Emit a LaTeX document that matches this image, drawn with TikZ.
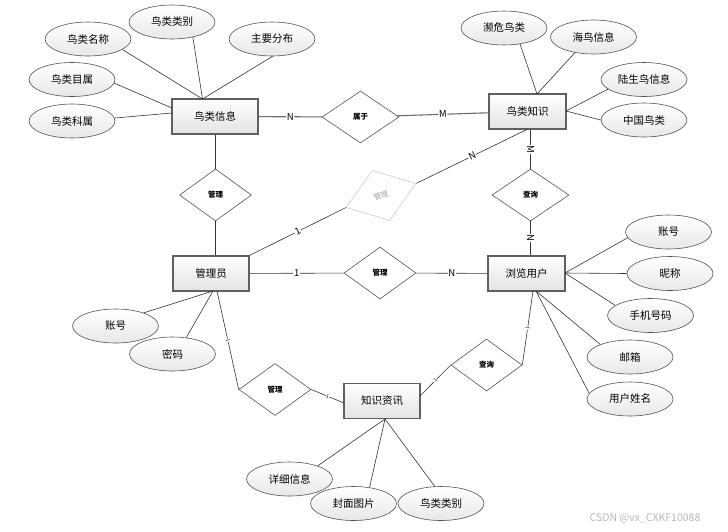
\documentclass[tikz,border=0pt]{standalone}
\usepackage{fontspec}
\setmainfont{Noto Sans CJK SC}
\usetikzlibrary{shapes.geometric}
\begin{document}
\begin{tikzpicture}[x=1pt,y=-1pt,
 entity/.style={draw=gray!75!black, line width=1.1pt, top color=white, bottom color=gray!22, minimum width=77pt, minimum height=35pt, inner sep=0pt, font=\fontsize{10.5}{12}\selectfont},
 attr/.style={ellipse, draw=gray!65!black, line width=0.6pt, top color=white, bottom color=gray!18, minimum width=86pt, minimum height=34pt, inner sep=0pt, font=\fontsize{10.5}{12}\selectfont},
 rel/.style={diamond, draw=gray!65!black, line width=0.6pt, fill=white, minimum width=72pt, minimum height=52pt, inner sep=0pt, font=\fontsize{7.5}{9}\selectfont\bfseries},
 link/.style={draw=black!80, line width=0.6pt},
 card/.style={fill=white, inner sep=0.6pt, font=\fontsize{9.5}{10}\selectfont, sloped},
 tinycard/.style={fill=white, inner sep=0.3pt, font=\fontsize{5}{6}\selectfont, sloped},
]
\useasboundingbox (0,0) rectangle (728,531);
\fill[white] (0,0) rectangle (728,531);

% entities
\node[entity, minimum width=86pt] (bird) at (215,116.5) {鸟类信息};
\node[entity] (know) at (527.5,111.5) {鸟类知识};
\node[entity, minimum width=76pt] (admin) at (211,273.5) {管理员};
\node[entity] (user) at (526.5,273.5) {浏览用户};
\node[entity, minimum width=76pt] (info) at (382,401) {知识资讯};

% relationships
\node[rel, minimum width=77pt] (belong) at (360.5,117) {属于};
\node[rel] (m1) at (215.5,195) {管理};
\node[rel, minimum width=77pt] (q1) at (530.5,195) {查询};
\node[rel] (m2) at (380,273) {管理};
\node[rel] (m3) at (275,389.5) {管理};
\node[rel, minimum width=71pt] (q2) at (486.5,365) {查询};
\node[rel, draw=gray!40, text=gray!75, font=\fontsize{7.5}{9}\selectfont, rotate=19, minimum width=74pt, minimum height=53pt] (m4) at (381,195.5) {管理};

% attributes
\node[attr] (a1) at (88,39) {鸟类名称};
\node[attr] (a2) at (172,22) {鸟类类别};
\node[attr] (a3) at (272,39) {主要分布};
\node[attr] (a4) at (72,79.5) {鸟类目属};
\node[attr] (a5) at (72,121) {鸟类科属};

\node[attr] (b1) at (504,28) {濒危鸟类};
\node[attr] (b2) at (593.5,37) {海鸟信息};
\node[attr] (b3) at (644,79.5) {陆生鸟信息};
\node[attr] (b4) at (644,120) {中国鸟类};

\node[attr] (c1) at (668.5,232) {账号};
\node[attr] (c2) at (670,273.5) {昵称};
\node[attr] (c3) at (650.5,315.5) {手机号码};
\node[attr] (c4) at (630,357) {邮箱};
\node[attr] (c5) at (630,399) {用户姓名};

\node[attr] (d1) at (115.5,326) {账号};
\node[attr] (d2) at (172.5,354) {密码};

\node[attr] (e1) at (289.5,479) {详细信息};
\node[attr] (e2) at (353.5,503.5) {封面图片};
\node[attr] (e3) at (441,503.5) {鸟类类别};

% attachment points
\coordinate (bt) at (202.5,99);
\coordinate (bl1) at (172,108);
\coordinate (bl2) at (172,113);
\coordinate (kt) at (537,94);
\coordinate (kr) at (566,111);
\coordinate (kb) at (528,129);
\coordinate (ur) at (565,273);
\coordinate (ubr) at (536,291);
\coordinate (ub) at (533,291);
\coordinate (ad) at (213,291);
\coordinate (ab) at (217,291);
\coordinate (il) at (344,403);
\coordinate (ir) at (420,396);
\coordinate (ib) at (385,419);

% attribute links
\draw[link] (a1.-17) -- (bt);
\draw[link] (a2.-36) -- (bt);
\draw[link] (a3.-88) -- (bt);
\draw[link] (a4.-5) -- (bl1);
\draw[link] (a5.4) -- (bl2);

\draw[link] (b1.-45) -- (kt);
\draw[link] (b2.-140) -- (kt);
\draw[link] (b3.-165) -- (kr);
\draw[link] (b4.west) -- (kr);

\draw[link] (c1.-172) -- (ur);
\draw[link] (c2.west) -- (ur);
\draw[link] (c3.164) -- (ur);
\draw[link] (c4.157) -- (ubr);
\draw[link] (c5.172) -- (ubr);

\draw[link] (d1.25) -- (ad);
\draw[link] (d2.50) -- (ad);

\draw[link] (e1.25) -- (ib);
\draw[link] (e2.45) -- (ib);
\draw[link] (e3.110) -- (ib);

% relationship links
\draw[link, draw=gray!85!black, line width=1.1pt] (bird) -- node[card]{N} (belong);
\draw[link, draw=gray!85!black, line width=1.1pt] (belong) -- node[card]{M} (know);
\draw[link] (bird.south -| m1) -- (m1.north);
\draw[link] (m1.south) -- (m1.south |- admin.north);
\draw[link] (admin.north east) -- node[card]{1} (m4.west);
\draw[link] (m4.east) -- node[card]{N} (kb);
\draw[link] (know.south -| q1) -- node[card]{M} (q1.north);
\draw[link] (q1.south) -- node[card]{N} (q1.south |- user.north);
\draw[link] (admin) -- node[card]{1} (m2);
\draw[link] (m2) -- node[card]{N} (user);
\draw[link] (ab) -- node[tinycard]{1} (m3.west);
\draw[link] (m3.east) -- node[tinycard]{1} (il);
\draw[link] (ir) -- node[tinycard]{1} (q2.west);
\draw[link] (ub) -- node[tinycard]{1} (q2.east);

% watermark
\node[font=\fontsize{10.5}{12}\selectfont, text=gray!55, inner sep=0pt] (wm) at (645,518) {CSDN @vx\_CXKF10088};
\end{tikzpicture}
\end{document}
